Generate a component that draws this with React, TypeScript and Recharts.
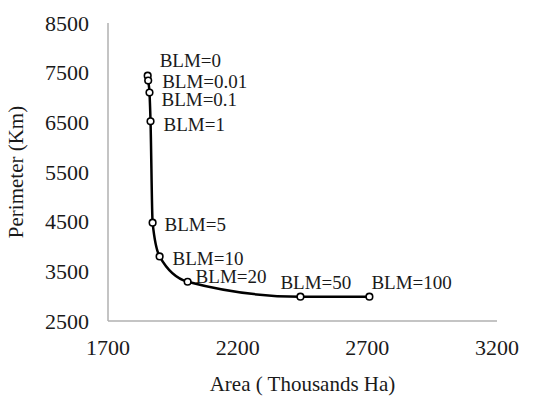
import React from "react";
import { LineChart, Line, XAxis, YAxis, LabelList } from "recharts";

const blmLabels = [
  "BLM=0",
  "BLM=0.01",
  "BLM=0.1",
  "BLM=1",
  "BLM=5",
  "BLM=10",
  "BLM=20",
  "BLM=50",
  "BLM=100",
];
const areaValues = [1853, 1855, 1860, 1864, 1872, 1899, 2007, 2442, 2708];
const perimeterValues = [7440, 7340, 7100, 6520, 4480, 3800, 3290, 2990, 2990];
const xTicks = [1700, 2200, 2700, 3200];
const yTicks = [2500, 3500, 4500, 5500, 6500, 7500, 8500];

// label nudges in px (dx, dy from the point)
const labelNudge: [number, number][] = [
  [12, -15],
  [14, 1],
  [12, 7],
  [13, 3],
  [12, 2],
  [13, 2],
  [8, -5],
  [-20, -14],
  [2, -14],
];

const data = areaValues.map((x, i) => ({
  x,
  y: perimeterValues[i],
  name: blmLabels[i],
}));

const FONT = "'Liberation Serif', 'Times New Roman', serif";
const TEXT = "#1a1a1a";
const AXIS = "#b0b0b0";

function BlmLabel(props: any) {
  const { x, y, index, value } = props;
  const [dx, dy] = labelNudge[index] ?? [10, 0];
  return (
    <text
      x={x + dx}
      y={y + dy}
      fill={TEXT}
      fontSize={19}
      fontFamily={FONT}
      dominantBaseline="central"
    >
      {value}
    </text>
  );
}

function HollowDot(props: any) {
  const { cx, cy, index } = props;
  return (
    <circle
      key={index}
      cx={cx}
      cy={cy}
      r={3.3}
      fill="#fff"
      stroke="#000"
      strokeWidth={1.6}
    />
  );
}

export default function App() {
  return (
    <div style={{ position: "absolute", left: 0, top: 0, background: "#fff" }}>
      <LineChart
        width={537}
        height={397}
        data={data}
        margin={{ top: 23, right: 40, bottom: 46, left: 48 }}
      >
        <XAxis
          type="number"
          dataKey="x"
          domain={[1700, 3200]}
          ticks={xTicks}
          height={30}
          tickLine={false}
          tickSize={0}
          tickMargin={18}
          stroke={AXIS}
          strokeWidth={1.5}
          tick={{ fill: TEXT, fontSize: 22, fontFamily: FONT }}
          interval={0}
          label={{
            value: "Area ( Thousands Ha)",
            position: "insideBottom",
            offset: -40,
            fill: TEXT,
            fontSize: 21,
            fontFamily: FONT,
          }}
        />
        <YAxis
          type="number"
          domain={[2500, 8500]}
          ticks={yTicks}
          width={60}
          tickLine={false}
          tickSize={0}
          tickMargin={19}
          stroke={AXIS}
          strokeWidth={1.5}
          tick={{ fill: TEXT, fontSize: 22, fontFamily: FONT }}
          interval={0}
          label={{
            value: "Perimeter (Km)",
            angle: -90,
            position: "insideLeft",
            offset: -32,
            fill: TEXT,
            fontSize: 21,
            fontFamily: FONT,
            style: { textAnchor: "middle" },
          }}
        />
        <Line
          type="monotone"
          dataKey="y"
          stroke="#000"
          strokeWidth={2.5}
          dot={<HollowDot />}
          activeDot={false}
          isAnimationActive={false}
        >
          <LabelList dataKey="name" content={<BlmLabel />} />
        </Line>
      </LineChart>
    </div>
  );
}
